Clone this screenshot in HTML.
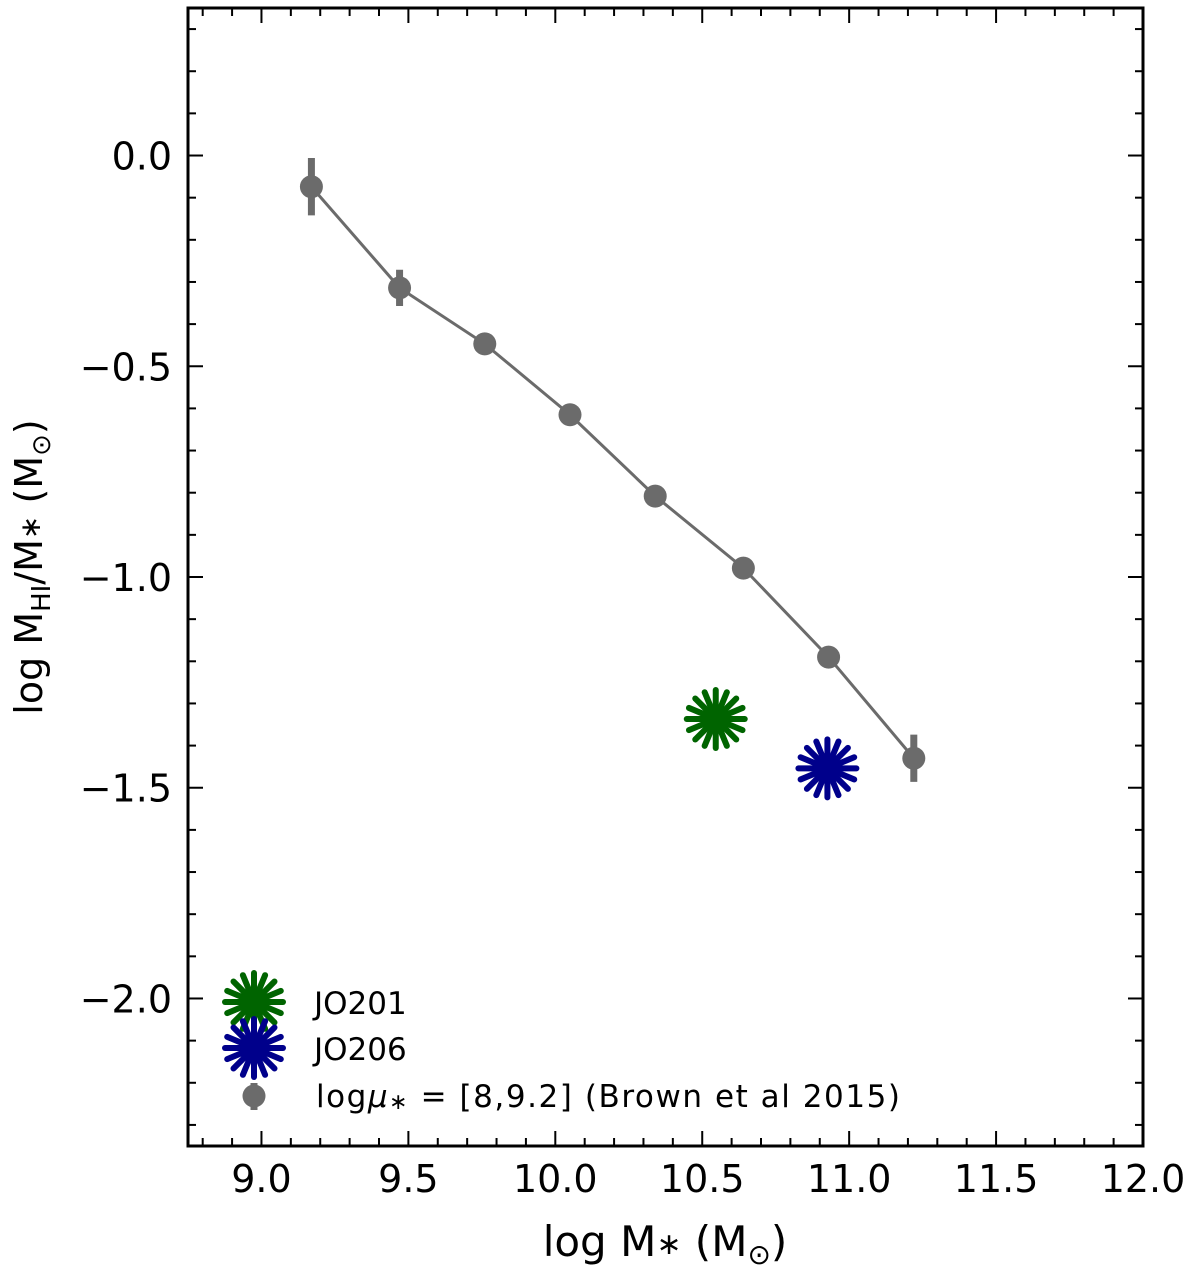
<!DOCTYPE html>
<html><head><meta charset="utf-8"><style>
html,body{margin:0;padding:0;background:#fff;}
svg{display:block;font-family:"DejaVu Sans","Liberation Sans",sans-serif;}
</style></head><body>
<svg id="chart" width="1200" height="1271" viewBox="0 0 1200 1271">
<g id="plot"></g>
</svg>
<script>
const xTicks=[9.0,9.5,10.0,10.5,11.0,11.5,12.0];
const xTickLabels=["9.0","9.5","10.0","10.5","11.0","11.5","12.0"];
const yTicks=[0.0,-0.5,-1.0,-1.5,-2.0];
const yTickLabels=["0.0","\u22120.5","\u22121.0","\u22121.5","\u22122.0"];
const brownX=[9.17,9.47,9.76,10.05,10.34,10.64,10.93,11.22];
const brownY=[-0.074,-0.314,-0.447,-0.615,-0.808,-0.979,-1.19,-1.43];
const brownErr=[0.068,0.043,0.0,0.0,0.0,0.0,0.0,0.056];
const jo201X=[10.546], jo201Y=[-1.337];
const jo206X=[10.926], jo206Y=[-1.454];

const L=188,R=1143,T=8,B=1146;
const xMin=8.75,xMax=12.0,yMin=-2.35,yMax=0.35;
const sx=v=>L+(v-xMin)/(xMax-xMin)*(R-L);
const sy=v=>B-(v-yMin)/(yMax-yMin)*(B-T);
const NS="http://www.w3.org/2000/svg";
const g=document.getElementById('plot');
function mk(tag,attrs,parent){const e=document.createElementNS(NS,tag);for(const k in attrs)e.setAttribute(k,attrs[k]);(parent||g).appendChild(e);return e;}

// ticks
const ticks=mk('g',{stroke:'#000','stroke-width':2});


for(let i=88;i<=120;i++){const v=i/10;const x=sx(v);
 const major=(i%5===0);const len=major?15:8;
 mk('line',{x1:x,x2:x,y1:B,y2:B-len},ticks);mk('line',{x1:x,x2:x,y1:T,y2:T+len},ticks);}
for(let i=-23;i<=3;i++){const v=i/10;const y=sy(v);
 const major=(i%5===0);const len=major?15:8;
 mk('line',{x1:L,x2:L+len,y1:y,y2:y},ticks);mk('line',{x1:R,x2:R-len,y1:y,y2:y},ticks);}
const frame=mk('rect',{x:L,y:T,width:R-L,height:B-T,fill:'none',stroke:'#000','stroke-width':3});



xTicks.forEach((v,i)=>{const t=mk('text',{x:sx(v),y:1192,'font-size':38,'text-anchor':'middle'});t.textContent=xTickLabels[i];
 
 });
yTicks.forEach((v,i)=>{const t=mk('text',{x:172,y:sy(v)+14,'font-size':38,'text-anchor':'end'});t.textContent=yTickLabels[i];
 
 });

const xt=mk('text',{x:665,y:1256,'font-size':42,'text-anchor':'middle'});
xt.innerHTML='log M<tspan font-size="30" dy="-2">\u2217</tspan><tspan dy="2"> (M</tspan><tspan font-size="28" dy="8">\u2299</tspan><tspan dy="-8">)</tspan>';


const yt=mk('text',{x:0,y:0,'font-size':38,'text-anchor':'middle',transform:'translate(42,567) rotate(-90)'});
yt.innerHTML='log M<tspan font-size="26" dy="8">HI</tspan><tspan dy="-8">/M</tspan><tspan font-size="28" dy="-2">\u2217</tspan><tspan dy="2"> (M</tspan><tspan font-size="26" dy="8">\u2299</tspan><tspan dy="-8">)</tspan>';



const gray='#6b6b6b';
const line=mk('polyline',{points:brownX.map((x,i)=>sx(x)+','+sy(brownY[i])).join(' '),fill:'none',stroke:gray,'stroke-width':3});


brownX.forEach((x,i)=>{
 if(brownErr[i]>0){const e=mk('line',{x1:sx(x),x2:sx(x),y1:sy(brownY[i]+brownErr[i]),y2:sy(brownY[i]-brownErr[i]),stroke:gray,'stroke-width':7});
  
  }
 const c=mk('circle',{cx:sx(x),cy:sy(brownY[i]),r:11.5,fill:gray});
 
 
});

function star(cx,cy,color,parent){const s=mk('g',{stroke:color,'stroke-width':6,'stroke-linecap':'round'},parent);
 for(let k=0;k<8;k++){const a=k*Math.PI/8;const dx=Math.cos(a)*29,dy=Math.sin(a)*29;
  mk('line',{x1:cx-dx,y1:cy-dy,x2:cx+dx,y2:cy+dy},s);}
 mk('circle',{cx:cx,cy:cy,r:14,fill:color,stroke:'none'},s);return s;}
jo201X.forEach((x,i)=>{const s=star(sx(x),sy(jo201Y[i]),'#006400');
 
 });
jo206X.forEach((x,i)=>{const s=star(sx(x),sy(jo206Y[i]),'#00008b');
 
 });

// legend
const lg=mk('g',{});


star(254,1002,'#006400',lg);
star(254,1048,'#00008b',lg);
mk('line',{x1:254,x2:254,y1:1083,y2:1110,stroke:gray,'stroke-width':7},lg);
mk('circle',{cx:254,cy:1096,r:11.5,fill:gray},lg);
const t1=mk('text',{x:314,y:1014,'font-size':31},lg);t1.textContent='JO201';


const t2=mk('text',{x:314,y:1060,'font-size':31},lg);t2.textContent='JO206';


const t3=mk('text',{x:316,y:1107,'font-size':31,textLength:584,lengthAdjust:'spacing'},lg);
t3.innerHTML='log<tspan font-style="italic">\u03bc</tspan><tspan font-size="22" dy="2">\u2217</tspan><tspan dy="-2"> = [8,9.2] (Brown et al 2015)</tspan>';


</script>
</body></html>
